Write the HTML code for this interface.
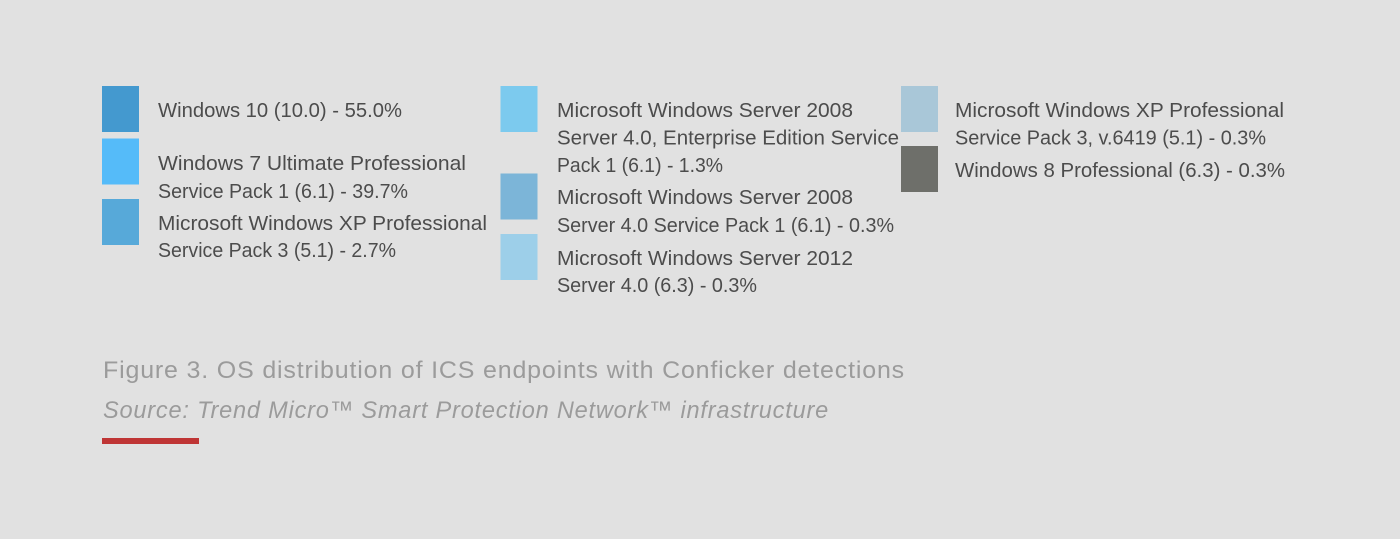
<!DOCTYPE html>
<html>
<head>
<meta charset="utf-8">
<style>
html,body{margin:0;padding:0;background:#e1e1e1;}
svg{display:block;}
text{font-family:"Liberation Sans",sans-serif;}
.l{font-size:20px;fill:#4c4c4c;}
.c{font-size:24px;fill:#9b9b9b;letter-spacing:0.8px;}
</style>
</head>
<body>
<svg width="1400" height="539" viewBox="0 0 1400 539" xmlns="http://www.w3.org/2000/svg">
<rect width="1400" height="539" fill="#e1e1e1"/>
<rect x="102" y="86" width="37" height="46" fill="#4499cf"/>
<rect x="102" y="138.5" width="37" height="46" fill="#55bbf9"/>
<rect x="102" y="199" width="37" height="46" fill="#57a9d9"/>
<rect x="500.5" y="86" width="37" height="46" fill="#7ccaee"/>
<rect x="500.5" y="173.5" width="37" height="46" fill="#7cb5d8"/>
<rect x="500.5" y="234" width="37" height="46" fill="#9dcfe9"/>
<rect x="901" y="86" width="37" height="46" fill="#a9c7d8"/>
<rect x="901" y="146" width="37" height="46" fill="#6e6f6a"/>

<g class="l">
<text class="l" x="158" y="117" textLength="244" lengthAdjust="spacingAndGlyphs">Windows 10 (10.0) - 55.0%</text>
<text class="l" x="158" y="170" textLength="308" lengthAdjust="spacingAndGlyphs">Windows 7 Ultimate Professional</text>
<text class="l" x="158" y="198" textLength="250" lengthAdjust="spacingAndGlyphs">Service Pack 1 (6.1) - 39.7%</text>
<text class="l" x="158" y="230" textLength="329" lengthAdjust="spacingAndGlyphs">Microsoft Windows XP Professional</text>
<text class="l" x="158" y="257" textLength="238" lengthAdjust="spacingAndGlyphs">Service Pack 3 (5.1) - 2.7%</text>

<text class="l" x="557" y="117" textLength="296" lengthAdjust="spacingAndGlyphs">Microsoft Windows Server 2008</text>
<text class="l" x="557" y="144.5" textLength="342" lengthAdjust="spacingAndGlyphs">Server 4.0, Enterprise Edition Service</text>
<text class="l" x="557" y="172" textLength="166" lengthAdjust="spacingAndGlyphs">Pack 1 (6.1) - 1.3%</text>
<text class="l" x="557" y="204" textLength="296" lengthAdjust="spacingAndGlyphs">Microsoft Windows Server 2008</text>
<text class="l" x="557" y="232" textLength="337" lengthAdjust="spacingAndGlyphs">Server 4.0 Service Pack 1 (6.1) - 0.3%</text>
<text class="l" x="557" y="265" textLength="296" lengthAdjust="spacingAndGlyphs">Microsoft Windows Server 2012</text>
<text class="l" x="557" y="292" textLength="200" lengthAdjust="spacingAndGlyphs">Server 4.0 (6.3) - 0.3%</text>

<text class="l" x="955" y="117" textLength="329" lengthAdjust="spacingAndGlyphs">Microsoft Windows XP Professional</text>
<text class="l" x="955" y="144.5" textLength="311" lengthAdjust="spacingAndGlyphs">Service Pack 3, v.6419 (5.1) - 0.3%</text>
<text class="l" x="955" y="177" textLength="330" lengthAdjust="spacingAndGlyphs">Windows 8 Professional (6.3) - 0.3%</text>
</g>

<text class="c" x="103" y="378" textLength="802" lengthAdjust="spacingAndGlyphs">Figure 3. OS distribution of ICS endpoints with Conficker detections</text>
<text class="c" x="103" y="418" font-style="italic" textLength="726" lengthAdjust="spacingAndGlyphs">Source: Trend Micro™ Smart Protection Network™ infrastructure</text>
<rect x="102" y="438" width="97" height="6" fill="#bf3535"/>
</svg>
</body>
</html>
